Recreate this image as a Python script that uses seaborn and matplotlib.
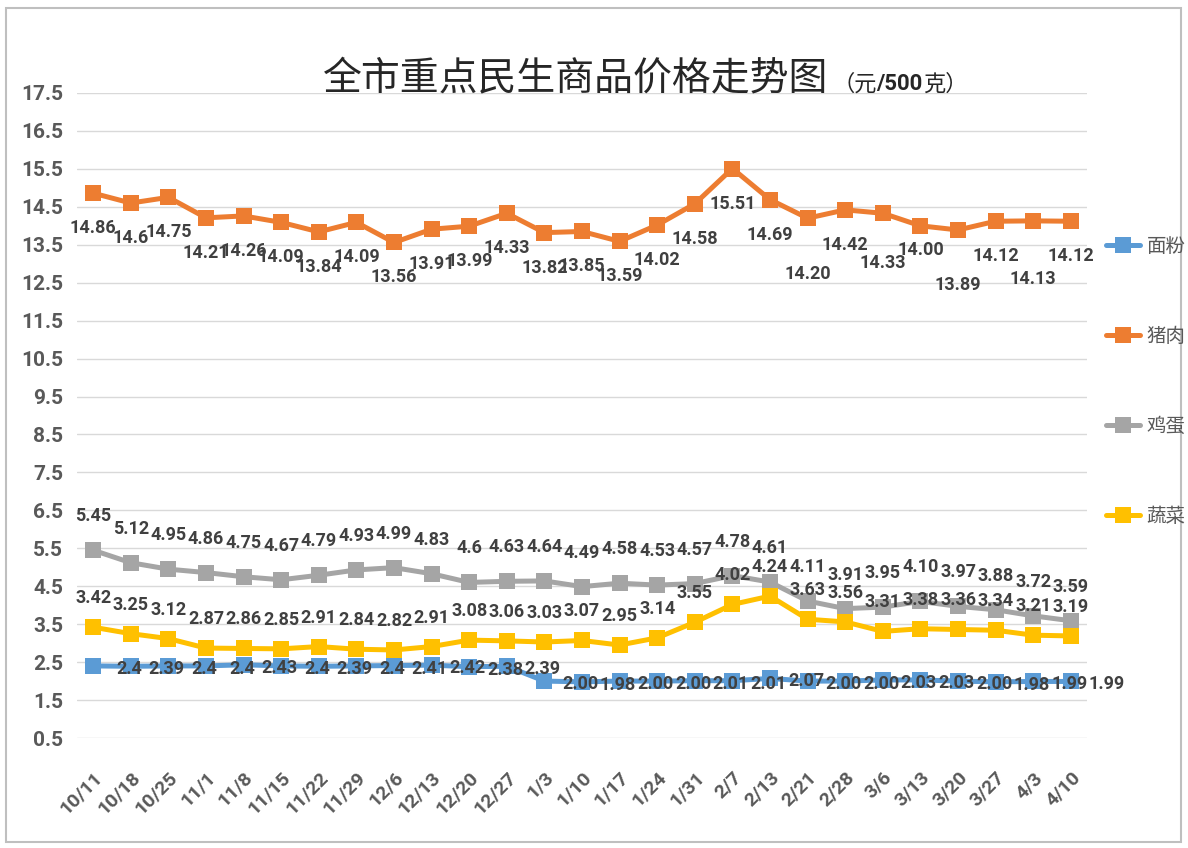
import numpy as np
import pandas as pd
import seaborn as sns
import matplotlib.pyplot as plt
from matplotlib.lines import Line2D
from matplotlib.patches import Rectangle

# ---------------- data ----------------
dates = ["10/11", "10/18", "10/25", "11/1", "11/8", "11/15", "11/22", "11/29",
         "12/6", "12/13", "12/20", "12/27", "1/3", "1/10", "1/17", "1/24", "1/31",
         "2/7", "2/13", "2/21", "2/28", "3/6", "3/13", "3/20", "3/27", "4/3", "4/10"]
flour = [2.4, 2.39, 2.4, 2.4, 2.43, 2.4, 2.39, 2.4, 2.41, 2.42, 2.38, 2.39,
         2.00, 1.98, 2.00, 2.00, 2.01, 2.01, 2.07, 2.00, 2.00, 2.03, 2.03, 2.00,
         1.98, 1.99, 1.99]
pork = [14.86, 14.6, 14.75, 14.21, 14.26, 14.09, 13.84, 14.09, 13.56, 13.91,
        13.99, 14.33, 13.82, 13.85, 13.59, 14.02, 14.58, 15.51, 14.69, 14.20,
        14.42, 14.33, 14.00, 13.89, 14.12, 14.13, 14.12]
egg = [5.45, 5.12, 4.95, 4.86, 4.75, 4.67, 4.79, 4.93, 4.99, 4.83, 4.6, 4.63,
       4.64, 4.49, 4.58, 4.53, 4.57, 4.78, 4.61, 4.11, 3.91, 3.95, 4.10, 3.97,
       3.88, 3.72, 3.59]
veg = [3.42, 3.25, 3.12, 2.87, 2.86, 2.85, 2.91, 2.84, 2.82, 2.91, 3.08, 3.06,
       3.03, 3.07, 2.95, 3.14, 3.55, 4.02, 4.24, 3.63, 3.56, 3.31, 3.38, 3.36,
       3.34, 3.21, 3.19]
items = ["面粉", "猪肉", "鸡蛋", "蔬菜"]
yticks = np.arange(0.5, 18.0, 1.0)
title = "全市重点民生商品价格走势图"
unit_parts = ["（元", "/500", "克）"]

series = dict(zip(items, [flour, pork, egg, veg]))
df = pd.DataFrame([
    {"idx": i, "date": d, "item": name, "price": v}
    for name, vals in series.items() for i, (d, v) in enumerate(zip(dates, vals))
])

# ---------------- style ----------------
colors = ["#5B9BD5", "#ED7D31", "#A5A5A5", "#FFC000"]
sns.set_theme(style="white")
plt.rcParams["font.family"] = ["Noto Sans CJK SC", "DejaVu Sans"]
num_font = ["Roboto", "DejaVu Sans"]

W, H = 1188, 848
fig = plt.figure(figsize=(W / 100, H / 100), dpi=100)
fig.patch.set_facecolor("white")
ax = fig.add_axes([77 / W, 1 - 738 / H, (1087 - 77) / W, (738 - 93) / H])

sns.lineplot(data=df, x="idx", y="price", hue="item", hue_order=items,
             palette=colors, style="item", style_order=items,
             markers=["s"] * 4, dashes=False, markersize=12, linewidth=3.6,
             markeredgewidth=0, ax=ax, legend=False, sort=False)

ax.set_xlim(-0.43, 26.43)
ax.set_ylim(0.5, 17.5)
ax.set_yticks(yticks)
ax.set_yticklabels([f"{t:.1f}" for t in yticks])
ax.set_xticks(range(len(dates)))
ax.set_xticklabels(dates, rotation=45, ha="right", rotation_mode="anchor")
ax.set_xlabel("")
ax.set_ylabel("")
for s in ax.spines.values():
    s.set_visible(False)
ax.grid(axis="y", color="#D9D9D9", linewidth=1.0)
ax.grid(axis="x", visible=False)
ax.set_axisbelow(True)
ax.tick_params(axis="both", length=0)
ax.tick_params(axis="y", pad=10)
ax.tick_params(axis="x", pad=22)
for lab in ax.get_yticklabels():
    lab.set_fontfamily(num_font)
    lab.set_fontweight("bold")
    lab.set_fontsize(15)
    lab.set_color("#595959")
for lab in ax.get_xticklabels():
    lab.set_fontfamily(num_font)
    lab.set_fontweight("bold")
    lab.set_fontsize(14)
    lab.set_color("#595959")

# ---------------- data labels ----------------
def fmt(i, v):
    return f"{v:g}" if i < 12 else f"{v:.2f}"

lab_kw = dict(textcoords="offset pixels", fontsize=13, fontweight="bold",
              color="#404040", fontfamily=num_font, zorder=10,
              ha="center", va="center", annotation_clip=False)
pork_dy = {19: -56, 21: -50, 22: -24, 23: -55, 25: -58}
for i, v in enumerate(pork):
    ax.annotate(fmt(i, v), (i, v), xytext=(0, pork_dy.get(i, -35)), **lab_kw)
for i, v in enumerate(egg):
    ax.annotate(fmt(i, v), (i, v), xytext=(0, 34), **lab_kw)
for i, v in enumerate(veg):
    ax.annotate(fmt(i, v), (i, v), xytext=(0, 29), **lab_kw)
for i, v in enumerate(flour):
    ax.annotate(fmt(i, v), (i, v), xytext=(36, -3), **lab_kw)

# ---------------- legend ----------------
handles = [Line2D([0], [0], color=c, lw=3.6, marker="s", markersize=11,
                  markeredgewidth=0) for c in colors]
leg = fig.legend(handles, items, loc="upper left",
                 bbox_to_anchor=(1096 / W, 1 - 226 / H), frameon=False,
                 handlelength=1.75, handletextpad=0.35, labelspacing=3.55,
                 borderpad=0, prop={"family": "Noto Sans CJK SC", "size": 14})
for t in leg.get_texts():
    t.set_color("#595959")

# ---------------- title ----------------
fig.text(828 / W, 1 - 78 / H, title, ha="right", va="center",
         fontsize=28, color="#262626", fontfamily="Noto Sans CJK SC")
renderer = fig.canvas.get_renderer()
x_px = 832
for part in unit_parts:
    bold = part.startswith("/")
    t = fig.text(x_px / W, 1 - 84 / H, part, ha="left", va="center",
                 fontsize=16, color="#262626",
                 fontweight="bold" if bold else "normal",
                 fontfamily=(num_font if bold
                             else ["Noto Sans CJK SC", "DejaVu Sans"]))
    x_px += t.get_window_extent(renderer).width

# ---------------- outer border ----------------
fig.add_artist(Rectangle((6 / W, 1 - 842 / H), (1181 - 6) / W, (842 - 8) / H,
                         transform=fig.transFigure, fill=False,
                         edgecolor="#BFBFBF", linewidth=1.5))

fig.savefig("out.png", dpi=100, facecolor="white")
